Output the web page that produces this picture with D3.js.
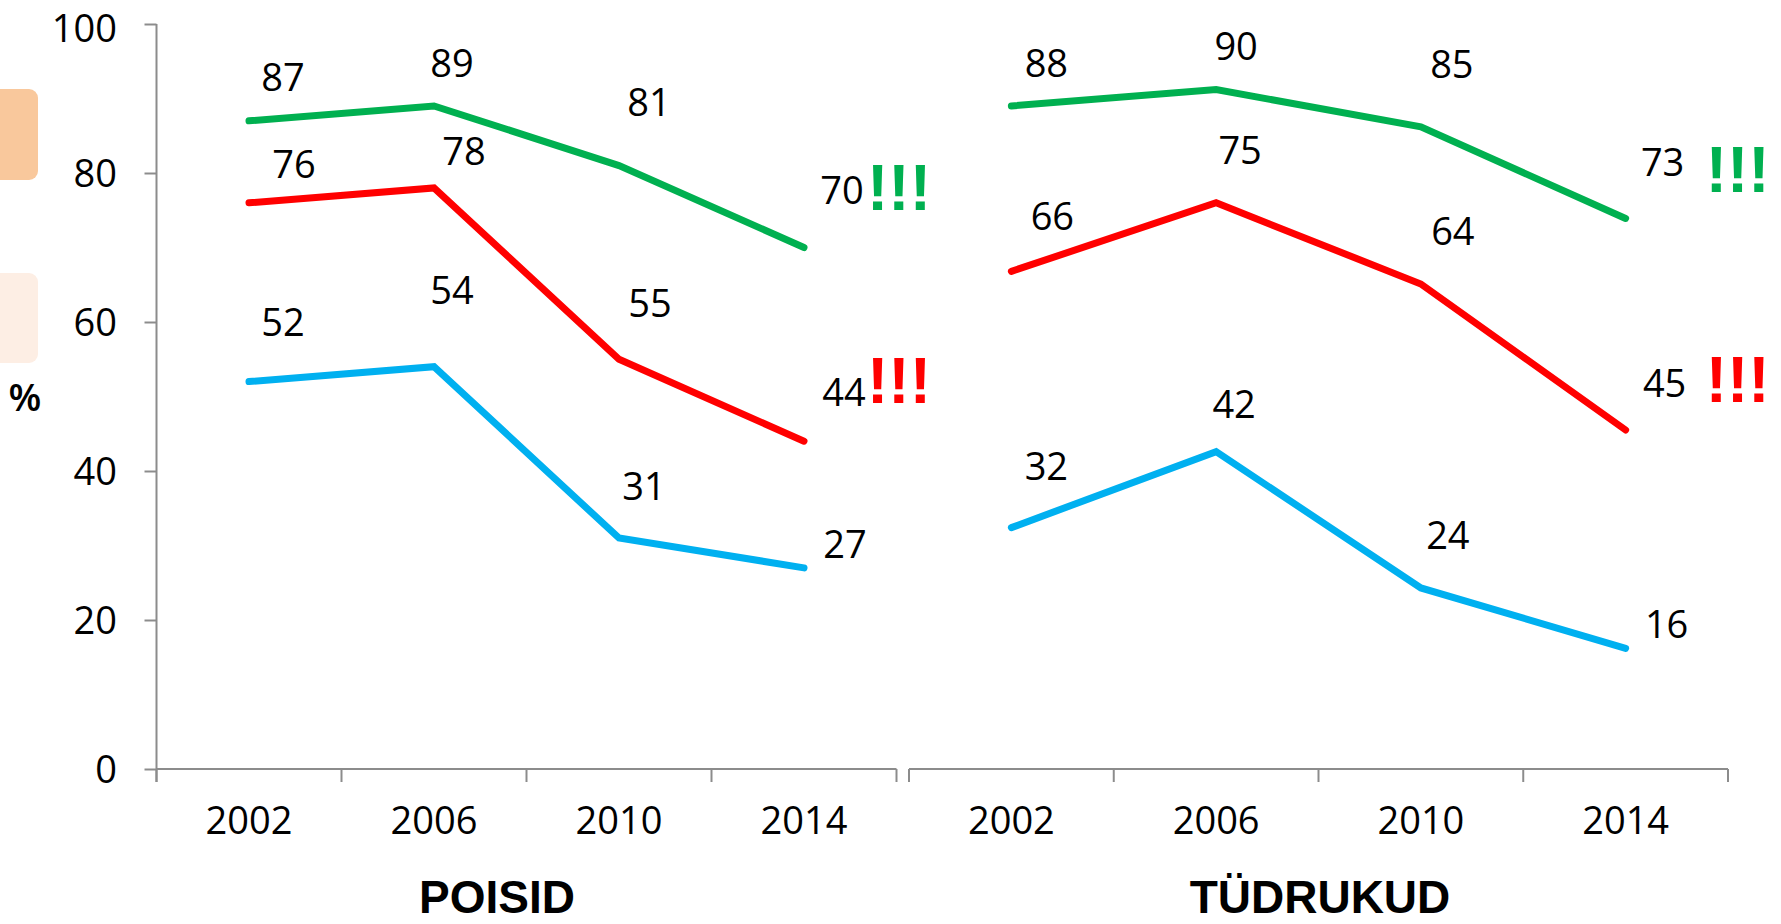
<!DOCTYPE html>
<html>
<head>
<meta charset="utf-8">
<script src="https://cdn.jsdelivr.net/npm/d3@7"></script>
<style>
  html, body { margin: 0; padding: 0; background: #fff; }
  svg { display: block; }
</style>
</head>
<body>
<svg id="chart" width="1781" height="924"></svg>
<script>
// ---------- data ----------
const years = ["2002", "2006", "2010", "2014"];
const panelNames = ["POISID", "TÜDRUKUD"];
const yTicks = [0, 20, 40, 60, 80, 100];

// POISID (boys)
const boysGreen = [87, 89, 81, 70];
const boysRed = [76, 78, 55, 44];
const boysBlue = [52, 54, 31, 27];

// TÜDRUKUD (girls) – plotted positions and shown labels
const girlsGreen = [89.0, 91.2, 86.2, 73.9];
const girlsRed = [66.8, 76.0, 65.1, 45.5];
const girlsBlue = [32.4, 42.6, 24.3, 16.2];
const girlsGreenLabels = [88, 90, 85, 73];
const girlsRedLabels = [66, 75, 64, 45];
const girlsBlueLabels = [32, 42, 24, 16];

// ---------- layout ----------
const colors = { green: "#00B050", red: "#FF0000", blue: "#00B0F0" };
const labelOffsets = {
  POISID: {
    green: [[34, -44], [18, -43], [30, -63], [38, -57]],
    red:   [[45, -38], [30, -37], [31, -56], [40, -49]],
    blue:  [[34, -59], [18, -76], [25, -52], [41, -24]]
  },
  "TÜDRUKUD": {
    green: [[35, -43], [20, -43], [31, -62], [37, -56]],
    red:   [[41, -55], [24, -52], [32, -53], [39, -47]],
    blue:  [[35, -61], [18, -47], [27, -53], [41, -24]]
  }
};
const alertOffsets = {
  POISID: { green: [63, -37.5], red: [63, -38.5] },
  "TÜDRUKUD": { green: [80, -26], red: [80, -28] }
};

const panels = [
  { name: "POISID", x0: 156.5, x1: 896.5, titleX: 497,
    series: [
      { key: "green", values: boysGreen, labels: boysGreen },
      { key: "red", values: boysRed, labels: boysRed },
      { key: "blue", values: boysBlue, labels: boysBlue }
    ] },
  { name: "TÜDRUKUD", x0: 909, x1: 1728, titleX: 1320,
    series: [
      { key: "green", values: girlsGreen, labels: girlsGreenLabels },
      { key: "red", values: girlsRed, labels: girlsRedLabels },
      { key: "blue", values: girlsBlue, labels: girlsBlueLabels }
    ] }
];

const numFont = "'Open Sans', 'Liberation Sans', sans-serif";
const boldFont = "'Liberation Sans', Arial, sans-serif";
const axisColor = "#8C8C8C";

const svg = d3.select("#chart");
const y = d3.scaleLinear().domain([0, 100]).range([769, 24]);

// legend boxes at the left edge (cut off)
svg.append("rect").attr("x", -12).attr("y", 89).attr("width", 50).attr("height", 91)
  .attr("rx", 9).attr("fill", "#F9C89C");
svg.append("rect").attr("x", -12).attr("y", 273).attr("width", 50).attr("height", 90)
  .attr("rx", 9).attr("fill", "#FDEEE4");
svg.append("text").attr("x", 25).attr("y", 411).attr("text-anchor", "middle")
  .attr("font-family", numFont).attr("font-size", 38).attr("font-weight", 600)
  .attr("fill", "#000").text("%");

// y axis
const yAxis = d3.axisLeft(y).tickValues(yTicks).tickSize(12).tickSizeOuter(0).tickPadding(27.5);
const gy = svg.append("g").attr("transform", "translate(156.5,0)").call(yAxis);
gy.select(".domain").remove();
gy.selectAll(".tick line").attr("stroke", axisColor).attr("stroke-width", 2);
gy.selectAll(".tick text").attr("font-family", numFont).attr("font-size", 38).attr("fill", "#000")
  .attr("dy", d => d === 100 ? "0.46em" : "0.36em");
gy.append("line").attr("x1", 0).attr("x2", 0).attr("y1", y(100)).attr("y2", 782)
  .attr("stroke", axisColor).attr("stroke-width", 2);

panels.forEach(p => {
  const x = d3.scaleBand().domain(years).range([p.x0, p.x1]).paddingInner(0).paddingOuter(0);
  const g = svg.append("g");

  // baseline + boundary ticks
  const bounds = years.map(d => x(d)).concat([x.range()[1]]);
  g.append("line").attr("x1", p.x0).attr("x2", p.x1).attr("y1", y(0)).attr("y2", y(0))
    .attr("stroke", axisColor).attr("stroke-width", 2);
  g.selectAll("line.bt").data(bounds).join("line").attr("class", "bt")
    .attr("x1", d => d).attr("x2", d => d).attr("y1", y(0)).attr("y2", y(0) + 13)
    .attr("stroke", axisColor).attr("stroke-width", 2);

  // year labels via axis
  const xAxis = d3.axisBottom(x).tickSize(0).tickPadding(38);
  const gx = g.append("g").attr("transform", `translate(0,${y(0)})`).call(xAxis);
  gx.select(".domain").remove();
  gx.selectAll(".tick text").attr("font-family", numFont).attr("font-size", 38).attr("fill", "#000")
    .attr("dy", "0.71em");

  // panel title
  g.append("text").attr("x", p.titleX).attr("y", 913).attr("text-anchor", "middle")
    .attr("font-family", boldFont).attr("font-weight", "bold").attr("font-size", 46)
    .attr("fill", "#000").text(p.name);

  const cx = d => x(d) + x.bandwidth() / 2;
  const line = d3.line().x(d => cx(d.year)).y(d => y(d.value));

  p.series.forEach(s => {
    const pts = years.map((yr, i) => ({ year: yr, value: s.values[i], label: s.labels[i], i }));
    g.append("path").datum(pts).attr("d", line).attr("fill", "none")
      .attr("stroke", colors[s.key]).attr("stroke-width", 7)
      .attr("stroke-linecap", "round").attr("stroke-linejoin", "miter");
    const offs = labelOffsets[p.name][s.key];
    g.selectAll(null).data(pts).join("text")
      .attr("x", d => cx(d.year) + offs[d.i][0])
      .attr("y", d => y(d.value) + offs[d.i][1])
      .attr("dy", "0.36em")
      .attr("text-anchor", "middle")
      .attr("font-family", numFont).attr("font-size", 38).attr("fill", "#000")
      .text(d => d.label);
    const al = alertOffsets[p.name][s.key];
    if (al) {
      const last = pts[pts.length - 1];
      g.append("text")
        .attr("x", cx(last.year) + al[0])
        .attr("y", y(last.value) + al[1])
        .attr("font-family", boldFont).attr("font-weight", "bold").attr("font-size", 64)
        .attr("fill", colors[s.key]).text("!!!");
    }
  });
});
</script>
</body>
</html>
